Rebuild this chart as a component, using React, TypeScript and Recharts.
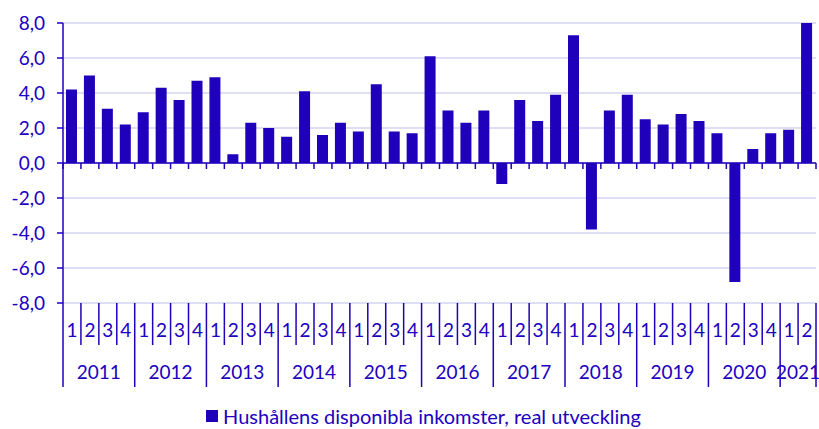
import React from 'react';
import { BarChart, Bar, XAxis, YAxis, CartesianGrid, ReferenceLine, Legend } from 'recharts';

const years = ['2011', '2012', '2013', '2014', '2015', '2016', '2017', '2018', '2019', '2020', '2021'];
const quarters = [
  '1', '2', '3', '4', '1', '2', '3', '4', '1', '2', '3', '4', '1', '2', '3', '4',
  '1', '2', '3', '4', '1', '2', '3', '4', '1', '2', '3', '4', '1', '2', '3', '4',
  '1', '2', '3', '4', '1', '2', '3', '4', '1', '2',
];
const values = [
  4.2, 5.0, 3.1, 2.2,
  2.9, 4.3, 3.6, 4.7,
  4.9, 0.5, 2.3, 2.0,
  1.5, 4.1, 1.6, 2.3,
  1.8, 4.5, 1.8, 1.7,
  6.1, 3.0, 2.3, 3.0,
  -1.2, 3.6, 2.4, 3.9,
  7.3, -3.8, 3.0, 3.9,
  2.5, 2.2, 2.8, 2.4,
  1.7, -6.8, 0.8, 1.7,
  1.9, 8.0,
];
const yTicks = [-8, -6, -4, -2, 0, 2, 4, 6, 8];
const seriesName = 'Hushållens disponibla inkomster, real utveckling';

const data = values.map((v, i) => ({
  key: `${years[Math.floor(i / 4)]}-${quarters[i]}`,
  quarter: quarters[i],
  year: years[Math.floor(i / 4)],
  value: v,
}));

const W = 819;
const H = 429;
const MARGIN = { top: 23, right: 3, left: 0, bottom: 36 };
const Y_W = 63;
const X_H = 90;
const PLOT_W = W - MARGIN.left - MARGIN.right - Y_W;
const N = data.length;
const BW = PLOT_W / N;

const DARK = '#1f00bb';
const TEXT = '#2000c0';
const GRID = '#d3d3f0';
const FONT = 'Lato, "Open Sans", sans-serif';

const QuarterTick = (props: any) => {
  const { x, y, payload } = props;
  const i = payload.index;
  const left = x - BW / 2;
  const isYearStart = i % 4 === 0;
  const els: any[] = [];
  els.push(
    <line key="l" x1={left} x2={left} y1={y} y2={y + (isYearStart ? 84 : 42)} stroke={DARK} strokeWidth={1.5} />
  );
  if (i === N - 1) {
    els.push(<line key="r" x1={x + BW / 2} x2={x + BW / 2} y1={y} y2={y + 84} stroke={DARK} strokeWidth={1.5} />);
  }
  els.push(
    <text key="q" x={x} y={y + 34} textAnchor="middle" fill={TEXT} fontSize={19} fontFamily={FONT}>
      {quarters[i]}
    </text>
  );
  if (isYearStart) {
    const count = Math.min(4, N - i);
    els.push(
      <text key="y" x={left + (count * BW) / 2} y={y + 76} textAnchor="middle" fill={TEXT} fontSize={19} fontFamily={FONT}>
        {years[Math.floor(i / 4)]}
      </text>
    );
  }
  return <g>{els}</g>;
};

const ZeroLine = (props: any) => {
  const { x1, x2, y1 } = props;
  const step = (x2 - x1) / N;
  const ticks = [];
  for (let k = 0; k <= N; k++) {
    ticks.push(<line key={k} x1={x1 + k * step} x2={x1 + k * step} y1={y1} y2={y1 + 6} stroke={DARK} strokeWidth={1.5} />);
  }
  return (
    <g>
      <line x1={x1} x2={x2} y1={y1} y2={y1} stroke={DARK} strokeWidth={1.5} />
      {ticks}
    </g>
  );
};

const LegendContent = () => (
  <div style={{ display: 'flex', justifyContent: 'center', alignItems: 'center', fontFamily: FONT, fontSize: 20, lineHeight: '22px', color: TEXT, whiteSpace: 'nowrap', paddingLeft: 28 }}>
    <span style={{ display: 'inline-block', width: 12, height: 12, background: DARK, marginRight: 5 }} />
    <span>{seriesName}</span>
  </div>
);

export default function App() {
  return (
    <div style={{ position: 'absolute', left: 0, top: 0, width: W, height: H, background: '#fff' }}>
      <BarChart width={W} height={H} data={data} margin={MARGIN}>
        <CartesianGrid horizontal vertical={false} stroke={GRID} strokeWidth={1.5} />
        <YAxis
          type="number"
          domain={[-8, 8]}
          ticks={yTicks}
          allowDataOverflow
          width={Y_W}
          interval={0}
          tickFormatter={(v: number) => v.toFixed(1).replace('.', ',')}
          axisLine={{ stroke: DARK, strokeWidth: 1.5 }}
          tickLine={{ stroke: DARK, strokeWidth: 1.5 }}
          tickSize={6}
          tickMargin={12}
          tick={{ fill: TEXT, fontSize: 19, fontFamily: FONT }}
        />
        <XAxis
          dataKey="key"
          height={X_H}
          interval={0}
          axisLine={false}
          tickLine={false}
          tickSize={0}
          tickMargin={0}
          tick={(p: any) => <QuarterTick {...p} />}
        />
        <Bar dataKey="value" name={seriesName} fill={DARK} barSize={11} isAnimationActive={false} />
        <ReferenceLine y={0} shape={(p: any) => <ZeroLine {...p} />} />
        <Legend
          verticalAlign="middle"
          align="center"
          layout="horizontal"
          wrapperStyle={{ top: 405, left: 0, width: W }}
          content={() => <LegendContent />}
        />
      </BarChart>
    </div>
  );
}
